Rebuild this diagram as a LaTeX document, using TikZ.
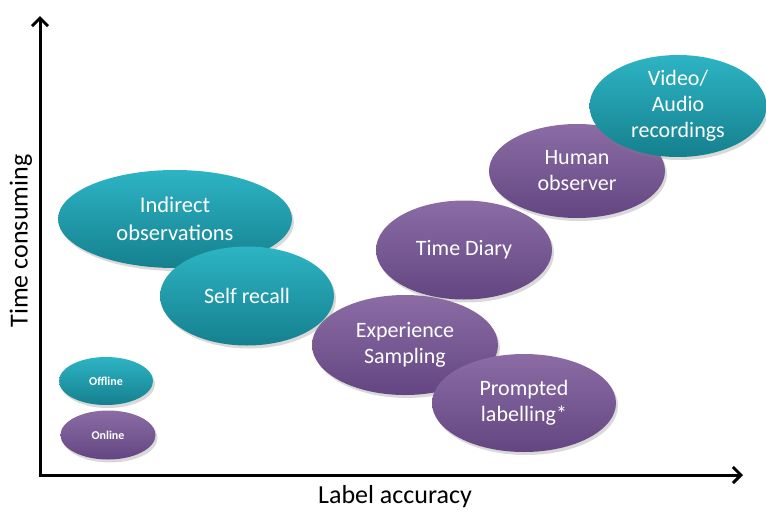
\documentclass[tikz,border=0pt]{standalone}
\usepackage{fontspec}
\setmainfont{Carlito}
\usetikzlibrary{shapes.geometric,shadows,arrows.meta}
\definecolor{tealT}{HTML}{2DB4C4}
\definecolor{tealM}{HTML}{1A98A8}
\definecolor{tealB}{HTML}{15808E}
\definecolor{purT}{HTML}{8B6CA5}
\definecolor{purM}{HTML}{775893}
\definecolor{purB}{HTML}{634681}
\tikzset{
  blob/.style={ellipse, inner sep=0pt,
    drop shadow={opacity=0.3, shadow xshift=2pt, shadow yshift=-3pt}},
  tealblob/.style={blob, top color=tealT, middle color=tealM, bottom color=tealB},
  purblob/.style={blob, top color=purT, middle color=purM, bottom color=purB},
  txt/.style={text=white, align=center, font=\fontsize{22}{26}\selectfont},
  bigtxt/.style={text=white, align=center, font=\fontsize{22.5}{28}\selectfont},
  smalltxt/.style={text=white, align=center, font=\fontsize{12}{14}\selectfont\bfseries},
  axis/.style={line width=3pt, -{Straight Barb[length=8pt,width=16pt]}},
  axlabel/.style={font=\fontsize{26}{30}\selectfont}
}
\begin{document}
\begin{tikzpicture}[x=1pt,y=-1pt]
\useasboundingbox (0,0) rectangle (766,512);
% axes
\coordinate (o) at (40,475);
\coordinate (ytop) at (40,16);
\coordinate (xend) at (743,475);
\draw[axis] (40,476.5) -- (ytop);
\draw[axis] (38.5,475) -- (xend);
\node[axlabel, rotate=90] (ylab) at (21,241) {Time consuming};
\node[axlabel] (xlab) at (395,497) {Label accuracy};
% blobs
\node[purblob, minimum width=186pt, minimum height=100pt] (exp) at (405,345) {};
\node[tealblob, minimum width=234pt, minimum height=98pt] (ind) at (175,219) {};
\node[tealblob, minimum width=174pt, minimum height=99pt] (self) at (247,296) {};
\node[purblob, minimum width=184pt, minimum height=98pt] (prom) at (524,403) {};
\node[purblob, minimum width=176pt, minimum height=99pt] (diary) at (464,250) {};
\node[purblob, minimum width=176pt, minimum height=94pt] (human) at (577,171) {};
\node[tealblob, minimum width=177pt, minimum height=102pt] (video) at (678,106) {};
\node[tealblob, minimum width=94pt, minimum height=48pt] (off) at (106,381) {};
\node[purblob, minimum width=95pt, minimum height=49pt] (on) at (108,435) {};
% texts
\node[bigtxt] (tind) at (ind) {Indirect\\observations};
\node[txt] (tself) at (self) {Self recall};
\node[txt] (texp) at (exp) {Experience\\Sampling};
\node[txt] (tprom) at (prom) {Prompted\\labelling*};
\node[txt] (tdiary) at (diary) {Time Diary};
\node[txt] (thuman) at (human) {Human\\observer};
\node[txt] (tvideo) at (video) {Video/\\Audio\\recordings};
\node[smalltxt] (toff) at (off) {Offline};
\node[smalltxt] (ton) at (on) {Online};
\end{tikzpicture}
\end{document}
